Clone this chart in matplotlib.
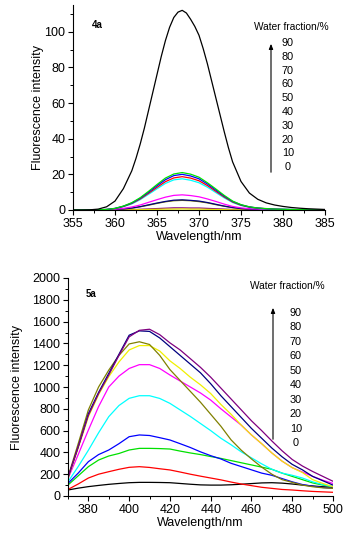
import matplotlib
matplotlib.use('Agg')
import matplotlib.pyplot as plt
from matplotlib.ticker import MultipleLocator

plt.rcParams['font.family'] = ['Liberation Sans', 'DejaVu Sans']

W, H = 356, 535

# ---- panel 4a data (wavelength step 1 nm) ----
wl_4a = list(range(355, 386))
# the tall curve is read at finer steps around the peak
wl_4a_black = [355, 356, 357, 358, 359, 360, 361, 362, 362.5, 363, 363.5, 364, 364.5, 365, 365.5,
               366, 366.5, 367, 367.5, 368, 368.5, 369, 369.5, 370, 370.5, 371, 371.5, 372,
               372.5, 373, 373.5, 374, 375, 376, 377, 378, 379, 380, 381, 382, 383, 384, 385]
i4a_black = [0, 0, 0.1, 0.5, 1.8, 5, 12, 22, 29, 37, 46, 56, 66, 76, 86, 95, 102.5, 108, 111,
             112, 110.5, 107, 103, 98, 90.5, 82, 72.5, 63, 53.5, 44, 35, 27, 16, 9.5, 6, 4,
             2.8, 2, 1.4, 1, 0.7, 0.5, 0.3]
i4a_green = [0, 0, 0, 0.1, 0.3, 0.9, 2.2, 4.1, 6.9, 10.5, 14.3, 17.9, 20.2, 21, 20.1, 18.4, 15.3,
             11.8, 8.2, 5.0, 3.0, 1.8, 1.1, 0.8, 0.5, 0.4, 0.3, 0.2, 0.1, 0.1, 0.1]
i4a_blue = [0, 0, 0, 0.1, 0.3, 0.9, 2.1, 3.9, 6.6, 10, 13.6, 17, 19.3, 20, 19.1, 17.5, 14.6, 11.2,
            7.8, 4.8, 2.9, 1.7, 1.1, 0.7, 0.5, 0.4, 0.3, 0.2, 0.1, 0.1, 0.1]
i4a_red = [0, 0, 0, 0.1, 0.3, 0.8, 2.0, 3.7, 6.2, 9.4, 12.7, 15.9, 18.0, 18.7, 17.9, 16.4, 13.7,
           10.5, 7.3, 4.5, 2.7, 1.6, 1.0, 0.7, 0.5, 0.3, 0.2, 0.2, 0.1, 0.1, 0.1]
i4a_cyan = [0, 0, 0, 0.1, 0.3, 0.8, 1.9, 3.4, 5.8, 8.8, 11.9, 14.9, 16.9, 17.5, 16.7, 15.3, 12.8,
            9.8, 6.8, 4.2, 2.5, 1.5, 0.9, 0.6, 0.4, 0.3, 0.2, 0.2, 0.1, 0.1, 0.1]
i4a_magenta = [0, 0, 0, 0, 0.1, 0.4, 0.9, 1.7, 2.8, 4.3, 5.8, 7.2, 8.2, 8.5, 8.1, 7.4, 6.2, 4.8,
               3.3, 2.0, 1.2, 0.7, 0.5, 0.3, 0.2, 0.2, 0.1, 0.1, 0.1, 0, 0]
i4a_olive = [0, 0, 0, 0, 0.1, 0.3, 0.6, 1.0, 1.8, 2.7, 3.7, 4.6, 5.2, 5.4, 5.2, 4.7, 4.0, 3.0,
             2.1, 1.3, 0.8, 0.5, 0.3, 0.2, 0.1, 0.1, 0.1, 0.1, 0, 0, 0]
i4a_navy = [0, 0, 0, 0, 0.1, 0.3, 0.6, 1.1, 1.9, 2.9, 3.9, 4.8, 5.5, 5.7, 5.4, 5.0, 4.2, 3.2,
            2.2, 1.4, 0.8, 0.5, 0.3, 0.2, 0.1, 0.1, 0.1, 0.1, 0, 0, 0]
i4a_yellow = [0, 0, 0, 0, 0, 0, 0.1, 0.1, 0.2, 0.3, 0.4, 0.5, 0.5, 0.6, 0.5, 0.5, 0.4, 0.3,
              0.2, 0.1, 0.1, 0, 0, 0, 0, 0, 0, 0, 0, 0, 0]
i4a_purple = [0, 0, 0, 0, 0, 0.1, 0.1, 0.2, 0.4, 0.6, 0.8, 1.0, 1.2, 1.2, 1.1, 1.1, 0.9, 0.7,
              0.5, 0.3, 0.2, 0.1, 0.1, 0, 0, 0, 0, 0, 0, 0, 0]

# ---- panel 5a data (wavelength step 5 nm) ----
wl_5a = list(range(370, 501, 5))
i5a_black = [55, 72, 86, 97, 107, 115, 122, 125, 125, 124, 122, 115, 108, 102, 100, 100, 103,
             108, 114, 120, 122, 118, 110, 100, 92, 85, 80]
i5a_red = [60, 110, 165, 200, 223, 245, 263, 269, 262, 250, 239, 220, 200, 182, 165, 148, 128,
           110, 95, 80, 70, 60, 55, 48, 42, 38, 34]
i5a_green = [101, 185, 269, 330, 367, 390, 422, 437, 437, 435, 431, 412, 395, 380, 362, 345, 325,
             305, 285, 265, 245, 210, 180, 150, 120, 100, 86]
i5a_blue = [116, 210, 315, 380, 422, 480, 544, 560, 555, 535, 514, 480, 445, 405, 370, 340, 300,
            270, 240, 210, 190, 160, 130, 105, 90, 78, 70]
i5a_cyan = [130, 270, 420, 580, 728, 830, 896, 920, 920, 895, 850, 790, 730, 665, 600, 530, 470,
            405, 350, 295, 245, 210, 190, 165, 130, 105, 86]
i5a_magenta = [160, 380, 605, 820, 1000, 1100, 1170, 1205, 1205, 1170, 1110, 1055, 1000, 945,
               880, 800, 725, 650, 560, 480, 395, 320, 260, 220, 180, 145, 115]
i5a_yellow = [160, 440, 728, 930, 1095, 1230, 1340, 1380, 1380, 1330, 1240, 1170, 1090, 1020,
              940, 840, 750, 650, 560, 480, 395, 320, 260, 215, 150, 115, 85]
i5a_olive = [175, 480, 790, 1000, 1155, 1290, 1395, 1415, 1390, 1290, 1160, 1060, 960, 860, 750,
             640, 515, 420, 340, 265, 200, 150, 125, 100, 85, 75, 70]
i5a_navy = [170, 450, 755, 950, 1125, 1300, 1475, 1515, 1510, 1450, 1370, 1290, 1210, 1130, 1030,
            920, 820, 720, 620, 530, 440, 360, 290, 240, 180, 140, 100]
i5a_purple = [170, 450, 740, 940, 1110, 1290, 1460, 1520, 1530, 1480, 1405, 1340, 1260, 1180,
              1090, 990, 890, 790, 690, 600, 505, 415, 335, 275, 225, 180, 135]

fractions = ['90', '80', '70', '60', '50', '40', '30', '20', '10', '0']

series_4a = [(wl_4a, i4a_purple, '#800080'), (wl_4a, i4a_yellow, '#e8e800'),
             (wl_4a, i4a_olive, '#808000'), (wl_4a, i4a_navy, '#000080'),
             (wl_4a, i4a_magenta, '#ff00ff'), (wl_4a, i4a_cyan, '#00ffff'),
             (wl_4a, i4a_red, '#ff0000'), (wl_4a, i4a_blue, '#0000ff'),
             (wl_4a, i4a_green, '#00e000'), (wl_4a_black, i4a_black, '#000000')]
series_5a = [(i5a_black, '#000000'), (i5a_red, '#ff0000'), (i5a_green, '#00e000'),
             (i5a_blue, '#0000ff'), (i5a_cyan, '#00ffff'), (i5a_magenta, '#ff00ff'),
             (i5a_yellow, '#f0f000'), (i5a_olive, '#808000'), (i5a_navy, '#000080'),
             (i5a_purple, '#800080')]


def fx(x):
    return x / W


def fy(y):
    return 1 - y / H


def style_axes(ax):
    for s in ['top', 'right']:
        ax.spines[s].set_visible(False)
    for s in ['left', 'bottom']:
        ax.spines[s].set_linewidth(0.8)
    ax.tick_params(which='major', length=3.5, width=0.8, labelsize=9, pad=2)
    ax.tick_params(which='minor', length=2, width=0.7)


fig = plt.figure(figsize=(W / 100, H / 100), dpi=100)

# panel 4a
ax1 = fig.add_axes([fx(73), fy(210), fx(325 - 73), (210 - 5) / H])
for xs, vals, col in series_4a:
    ax1.plot(xs, vals, color=col, lw=0.9)
ax1.set_xlim(355, 385)
ax1.set_ylim(0, 115)
ax1.xaxis.set_major_locator(MultipleLocator(5))
ax1.xaxis.set_minor_locator(MultipleLocator(2.5))
ax1.yaxis.set_major_locator(MultipleLocator(20))
ax1.yaxis.set_minor_locator(MultipleLocator(10))
style_axes(ax1)
ax1.set_xlabel('Wavelength/nm', fontsize=9, labelpad=1)
ax1.set_ylabel('Fluorescence intensity', fontsize=9, labelpad=0)

# panel 5a
ax2 = fig.add_axes([fx(68), fy(496), fx(333 - 68), (496 - 278) / H])
for vals, col in series_5a:
    ax2.plot(wl_5a, vals, color=col, lw=0.9)
ax2.set_xlim(370, 500)
ax2.set_ylim(0, 2000)
ax2.xaxis.set_major_locator(MultipleLocator(20))
ax2.xaxis.set_minor_locator(MultipleLocator(10))
ax2.yaxis.set_major_locator(MultipleLocator(200))
ax2.yaxis.set_minor_locator(MultipleLocator(100))
style_axes(ax2)
ax2.set_xlabel('Wavelength/nm', fontsize=9, labelpad=1)
ax2.set_ylabel('Fluorescence intensity', fontsize=9, labelpad=7)

# panel tags
fig.text(fx(92), fy(25), '4a', fontsize=7, fontweight='bold', va='center', ha='left')
fig.text(fx(86), fy(294), '5a', fontsize=7, fontweight='bold', va='center', ha='left')

# water fraction legends
for title_xy, arrow_x, arrow_y0, arrow_y1, num_x, num_y0, step in [
        ((291, 27), 271, 175, 41, 288, 43, 13.8),
        ((287, 286), 273, 442, 305, 296, 313, 14.45)]:
    fig.text(fx(title_xy[0]), fy(title_xy[1]), 'Water fraction/%', fontsize=7.3,
             ha='center', va='center')
    fig.add_artist(matplotlib.patches.FancyArrowPatch(
        (fx(arrow_x), fy(arrow_y0)), (fx(arrow_x), fy(arrow_y1)),
        transform=fig.transFigure, arrowstyle='-|>,head_length=3,head_width=1.2',
        color='black', lw=0.8, mutation_scale=1))
    for k, lab in enumerate(fractions):
        fig.text(fx(num_x), fy(num_y0 + k * step), lab, fontsize=7.8,
                 ha='center', va='center')

fig.savefig('out.png', dpi=100)
